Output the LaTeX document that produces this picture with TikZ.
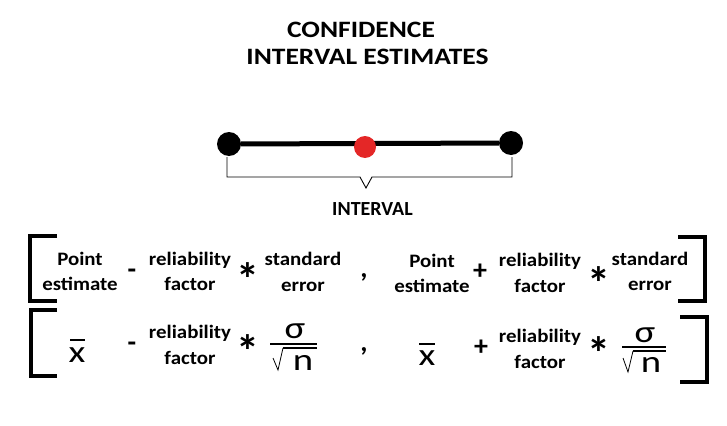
\documentclass[tikz,border=0pt]{standalone}
\usepackage{fontspec}
\setmainfont{Carlito}
\newfontfamily\ttlfont[FakeStretch=1.17]{Carlito}
\newfontfamily\wordfont[FakeStretch=1.1]{Carlito}
\newfontfamily\bigfont[FakeStretch=1.25]{Carlito}
\begin{document}
\begin{tikzpicture}[x=1pt,y=-1pt,
  ttl/.style={font=\ttlfont\fontsize{23.5}{23.5}\selectfont\bfseries, anchor=base, inner sep=0pt},
  word/.style={font=\wordfont\fontsize{19}{19}\selectfont\bfseries, anchor=base, inner sep=0pt},
  op/.style={font=\fontsize{28}{28}\selectfont\bfseries},
  star/.style={font=\fontsize{46}{46}\selectfont\bfseries, inner sep=0pt},
  big/.style={font=\bigfont\fontsize{31}{31}\selectfont, anchor=base, inner sep=0pt},
  brk/.style={line width=4.5pt},
  thin/.style={line width=0.9pt},
  bar/.style={line width=1.1pt}]
\useasboundingbox (0,0) rectangle (727,425);
% title
\node[ttl] (title1) at (361,38) {CONFIDENCE};
\node[ttl] (title2) at (367.5,65) {INTERVAL ESTIMATES};
% interval line
\node[circle,fill=black,minimum size=24pt,inner sep=0pt] (lo) at (229,144) {};
\node[circle,fill=black,minimum size=24pt,inner sep=0pt] (hi) at (511,143) {};
\draw[line width=5pt] (lo) -- (hi);
\node[circle,fill={rgb,255:red,228;green,39;blue,39},minimum size=22pt,inner sep=0pt] (mid) at (365,147) {};
% brace
\coordinate (b1) at (227,157);
\coordinate (b2) at (512,157);
\draw[thin] (b1) -- (227,177) -- (360,177) -- (366,188) -- (372,177) -- (512,177) -- (b2);
\node[font=\fontsize{20}{20}\selectfont\bfseries, anchor=base, inner sep=0pt] (intv) at (372.5,215) {INTERVAL};
% row 1 brackets
\coordinate (l1a) at (57,236); \coordinate (l1b) at (57,301);
\draw[brk] (l1a) -- (30,236) -- (30,301) -- (l1b);
\coordinate (r1a) at (678,237); \coordinate (r1b) at (678,301);
\draw[brk] (r1a) -- (705,237) -- (705,301) -- (r1b);
% row 1 text
\node[word] (pe1a) at (80,265) {Point};
\node[word] (pe1b) at (80,290) {estimate};
\node[op] (m1) at (132,274) {-};
\node[word] (rf1a) at (190,265) {reliability};
\node[word] (rf1b) at (190,290) {factor};
\node[star] (s1) at (248,279) {*};
\node[word] (se1a) at (303,265) {standard};
\node[word] (se1b) at (303,291) {error};
\node[op] (c1) at (364,277) {,};
\node[word] (pe2a) at (432,267) {Point};
\node[word] (pe2b) at (432,292) {estimate};
\node[op] (p1) at (480,272) {+};
\node[word] (rf2a) at (540,266) {reliability};
\node[word] (rf2b) at (540,292) {factor};
\node[star] (s2) at (599,283) {*};
\node[word] (se2a) at (650,265) {standard};
\node[word] (se2b) at (650,290) {error};
% row 2 brackets
\coordinate (l2a) at (57,310); \coordinate (l2b) at (57,376);
\draw[brk] (l2a) -- (31,310) -- (31,376) -- (l2b);
\coordinate (r2a) at (680,317); \coordinate (r2b) at (680,382);
\draw[brk] (r2a) -- (707,317) -- (707,382) -- (r2b);
% row 2 text
\node[big] (xb1) at (77,362) {x};
\draw[bar] (70,340) -- (85,340);
\node[op] (m2) at (132,347) {-};
\node[word] (rf3a) at (190,338) {reliability};
\node[word] (rf3b) at (190,364) {factor};
\node[star] (s3) at (248,351) {*};
\node[big] (sg1) at (295,338) {σ};
\draw[bar] (270,344) -- (317,344);
\draw[bar] (283,348) -- (317,348);
\draw[line width=0.8pt] (273,358) -- (278,370) -- (283,348);
\node[big] (n1) at (303,370) {n};
\node[op] (c2) at (364,351) {,};
\node[big] (xb2) at (427,365) {x};
\draw[bar] (419,344) -- (435,344);
\node[op] (p2) at (481,348) {+};
\node[word] (rf4a) at (540,342) {reliability};
\node[word] (rf4b) at (540,368) {factor};
\node[star] (s4) at (599,353) {*};
\node[big] (sg2) at (645,342) {σ};
\draw[bar] (622,347) -- (666,347);
\draw[bar] (633,351) -- (666,351);
\draw[line width=0.8pt] (623,358) -- (628,372) -- (633,351);
\node[big] (n2) at (651,372) {n};
\end{tikzpicture}
\end{document}
